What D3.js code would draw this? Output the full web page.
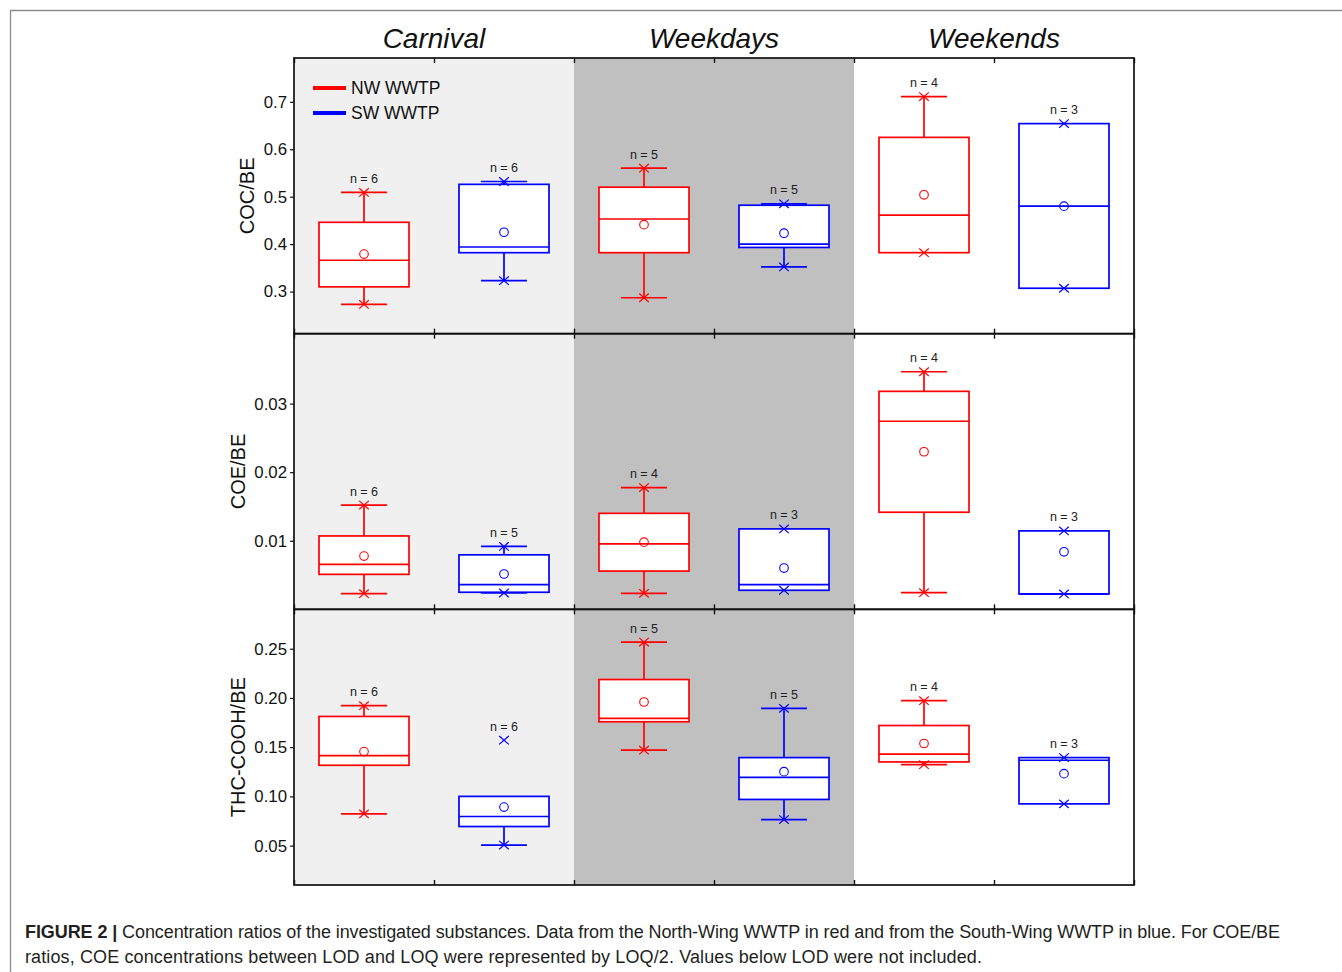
<!DOCTYPE html>
<html>
<head>
<meta charset="utf-8">
<script src="https://cdn.jsdelivr.net/npm/d3@7"></script>
<style>
  html, body { margin: 0; padding: 0; background: #fff; }
  svg { display: block; font-family: "Liberation Sans", Arial, sans-serif; }
</style>
</head>
<body>
<svg id="chart" width="1342" height="972"></svg>
<script>
// ---------------- data ----------------
const categories = ["Carnival", "Weekdays", "Weekends"];
const seriesNames = ["NW WWTP", "SW WWTP"];
const panelTitles = ["COC/BE", "COE/BE", "THC-COOH/BE"];
// box order: Carnival NW, Carnival SW, Weekdays NW, Weekdays SW, Weekends NW, Weekends SW

// COC/BE
const cocN    = [6, 6, 5, 5, 4, 3];
const cocMin  = [0.273, 0.323, 0.287, 0.352, 0.382, 0.307];
const cocQ1   = [0.310, 0.382, 0.382, 0.393, 0.382, 0.307];
const cocMed  = [0.366, 0.394, 0.453, 0.400, 0.461, 0.480];
const cocQ3   = [0.446, 0.526, 0.520, 0.482, 0.625, 0.654];
const cocMax  = [0.509, 0.532, 0.560, 0.485, 0.711, 0.654];
const cocMean = [0.379, 0.425, 0.441, 0.423, 0.504, 0.480];
const cocWLo  = [0.273, 0.323, 0.287, 0.352, null, null];
const cocWHi  = [0.509, 0.532, 0.560, 0.485, 0.711, null];
const cocTicks = [0.3, 0.4, 0.5, 0.6, 0.7];
const cocDomain = [0.2113, 0.7923];

// COE/BE
const coeN    = [6, 5, 4, 3, 4, 3];
const coeMin  = [0.00228, 0.00238, 0.00234, 0.00278, 0.00243, 0.00224];
const coeQ1   = [0.0051, 0.00249, 0.00558, 0.00278, 0.01416, 0.00224];
const coeMed  = [0.00655, 0.00359, 0.00955, 0.00359, 0.02743, 0.00224];
const coeQ3   = [0.0107, 0.00795, 0.0140, 0.01173, 0.03179, 0.01144];
const coeMax  = [0.0152, 0.00917, 0.01775, 0.01173, 0.03465, 0.01144];
const coeMean = [0.00776, 0.00515, 0.00980, 0.00602, 0.02298, 0.00839];
const coeWLo  = [0.00228, 0.00238, 0.00234, null, 0.00243, null];
const coeWHi  = [0.0152, 0.00917, 0.01775, null, 0.03465, null];
const coeTicks = [0.01, 0.02, 0.03];
const coeDomain = [0, 0.0402];

// THC-COOH/BE
const thcN    = [6, 6, 5, 5, 4, 3];
const thcMin  = [0.0822, 0.0506, 0.1469, 0.0765, 0.1322, 0.0924];
const thcQ1   = [0.1316, 0.0694, 0.1758, 0.0969, 0.1350, 0.0924];
const thcMed  = [0.1414, 0.0796, 0.1792, 0.1194, 0.1429, 0.1367];
const thcQ3   = [0.1812, 0.1000, 0.2187, 0.1394, 0.1720, 0.1394];
const thcMax  = [0.1921, 0.1571, 0.2567, 0.1894, 0.1972, 0.1394];
const thcMean = [0.1455, 0.0891, 0.1959, 0.1251, 0.1537, 0.1231];
const thcWLo  = [0.0822, 0.0506, 0.1469, 0.0765, 0.1322, null];
const thcWHi  = [0.1921, null, 0.2567, 0.1894, 0.1972, null];
const thcTicks = [0.05, 0.10, 0.15, 0.20, 0.25];
const thcDomain = [0.01, 0.29];

const captionBold = "FIGURE 2 |";
const captionLine1 = " Concentration ratios of the investigated substances. Data from the North-Wing WWTP in red and from the South-Wing WWTP in blue. For COE/BE";
const captionLine2 = "ratios, COE concentrations between LOD and LOQ were represented by LOQ/2. Values below LOD were not included.";

// --------------- build ---------------
const panels = [
  {title: panelTitles[0], n: cocN, min: cocMin, q1: cocQ1, med: cocMed, q3: cocQ3, max: cocMax, mean: cocMean, wLo: cocWLo, wHi: cocWHi, ticks: cocTicks, domain: cocDomain, fmt: ".1f", titleX: 254},
  {title: panelTitles[1], n: coeN, min: coeMin, q1: coeQ1, med: coeMed, q3: coeQ3, max: coeMax, mean: coeMean, wLo: coeWLo, wHi: coeWHi, ticks: coeTicks, domain: coeDomain, fmt: ".2f", titleX: 245},
  {title: panelTitles[2], n: thcN, min: thcMin, q1: thcQ1, med: thcMed, q3: thcQ3, max: thcMax, mean: thcMean, wLo: thcWLo, wHi: thcWHi, ticks: thcTicks, domain: thcDomain, fmt: ".2f", titleX: 245}
];

const svg = d3.select("#chart");
const plotL = 294, plotR = 1134, plotT = 58, plotB = 885;
const panelH = (plotB - plotT) / panels.length;
const colors = ["#ff0000", "#0000ff"];
const bandFills = ["#f0f0f0", "#c0c0c0", "#ffffff"];

// outer figure frame
svg.append("path")
  .attr("d", `M10.5,972 L10.5,10.5 L1342,10.5`)
  .attr("fill", "none").attr("stroke", "#8c8c8c").attr("stroke-width", 1.3);

const xCat = d3.scaleBand().domain(categories).range([plotL, plotR]);
const nSlots = categories.length * seriesNames.length;
const xSlot = d3.scaleLinear().domain([0, nSlots]).range([plotL, plotR]);
const slotW = xSlot(1) - xSlot(0);
const boxW = slotW * 0.643;
const capW = boxW * 0.51;

// backgrounds
svg.append("g").selectAll("rect").data(categories).join("rect")
  .attr("x", d => xCat(d)).attr("y", plotT)
  .attr("width", xCat.bandwidth()).attr("height", plotB - plotT)
  .attr("fill", (d, i) => bandFills[i]);

// column titles
svg.append("g").selectAll("text").data(categories).join("text")
  .attr("x", d => xCat(d) + xCat.bandwidth() / 2).attr("y", 47.5)
  .attr("text-anchor", "middle").attr("font-style", "italic")
  .attr("font-size", 28).attr("fill", "#111").text(d => d);

panels.forEach((p, pi) => {
  const pTop = plotT + pi * panelH, pBot = pTop + panelH;
  const y = d3.scaleLinear().domain(p.domain).range([pBot, pTop]);
  const g = svg.append("g");

  // y axis
  const ax = g.append("g").attr("transform", `translate(${plotL},0)`)
    .call(d3.axisLeft(y).tickValues(p.ticks).tickFormat(d3.format(p.fmt)).tickSize(4).tickSizeOuter(0).tickPadding(3));
  ax.select(".domain").remove();
  ax.selectAll("line").attr("stroke", "#111").attr("stroke-width", 1.2);
  ax.selectAll("text").attr("font-size", 16.8).attr("fill", "#111")
    .attr("font-family", "'Liberation Sans', Arial, sans-serif");

  // x ticks (inward, top and bottom)
  const tv = d3.range(0, nSlots + 1);
  const axT = g.append("g").attr("transform", `translate(0,${pTop})`)
    .call(d3.axisBottom(xSlot).tickValues(tv).tickFormat("").tickSize(5).tickSizeOuter(0));
  axT.select(".domain").remove();
  axT.selectAll("line").attr("stroke", "#111").attr("stroke-width", 1.4);
  const axB = g.append("g").attr("transform", `translate(0,${pBot})`)
    .call(d3.axisTop(xSlot).tickValues(tv).tickFormat("").tickSize(5).tickSizeOuter(0));
  axB.select(".domain").remove();
  axB.selectAll("line").attr("stroke", "#111").attr("stroke-width", 1.4);

  // y title
  g.append("text")
    .attr("transform", `translate(${p.titleX},${(pTop + pBot) / 2}) rotate(-90)`)
    .attr("text-anchor", "middle").attr("font-size", 20).attr("fill", "#111")
    .text(p.title);

  // boxes
  for (let i = 0; i < nSlots; i++) {
    const cx = xSlot(i + 0.5);
    const col = colors[i % 2];
    const bg = g.append("g").attr("stroke", col).attr("fill", "none").attr("stroke-width", 1.7);
    if (p.wHi[i] != null) {
      bg.append("line").attr("x1", cx).attr("x2", cx).attr("y1", y(p.q3[i])).attr("y2", y(p.wHi[i]));
    }
    if (p.wLo[i] != null) {
      bg.append("line").attr("x1", cx).attr("x2", cx).attr("y1", y(p.q1[i])).attr("y2", y(p.wLo[i]));
    }
    bg.append("rect").attr("x", cx - boxW / 2).attr("y", y(p.q3[i]))
      .attr("width", boxW).attr("height", Math.max(0.5, y(p.q1[i]) - y(p.q3[i])))
      .attr("fill", "#fff");
    bg.append("line").attr("x1", cx - boxW / 2).attr("x2", cx + boxW / 2)
      .attr("y1", y(p.med[i])).attr("y2", y(p.med[i]));
    if (p.wHi[i] != null) {
      bg.append("line").attr("x1", cx - capW / 2).attr("x2", cx + capW / 2).attr("y1", y(p.wHi[i])).attr("y2", y(p.wHi[i]));
    }
    if (p.wLo[i] != null) {
      bg.append("line").attr("x1", cx - capW / 2).attr("x2", cx + capW / 2).attr("y1", y(p.wLo[i])).attr("y2", y(p.wLo[i]));
    }
    // mean circle
    bg.append("circle").attr("cx", cx).attr("cy", y(p.mean[i])).attr("r", 4.3).attr("stroke-width", 1.1);
    // min / max X markers
    [p.min[i], p.max[i]].forEach(v => {
      const yy = y(v), s = 4.8, t = 4.2;
      bg.append("path").attr("d", `M${cx - s},${yy - t}L${cx + s},${yy + t}M${cx - s},${yy + t}L${cx + s},${yy - t}`)
        .attr("stroke-width", 1.2);
    });
    // n label
    g.append("text").attr("x", cx).attr("y", y(p.max[i]) - 9.5)
      .attr("text-anchor", "middle").attr("font-size", 12.5).attr("fill", "#222")
      .text(`n = ${p.n[i]}`);
  }

  // panel frame
  g.append("rect").attr("x", plotL).attr("y", pTop).attr("width", plotR - plotL).attr("height", panelH)
    .attr("fill", "none").attr("stroke", "#111").attr("stroke-width", 1.7);
});

// legend
const lg = svg.append("g");
seriesNames.forEach((s, i) => {
  const yy = 88 + i * 25;
  lg.append("line").attr("x1", 313).attr("x2", 346).attr("y1", yy).attr("y2", yy)
    .attr("stroke", colors[i]).attr("stroke-width", 4);
  lg.append("text").attr("x", 351).attr("y", yy + 6).attr("font-size", 17.5).attr("fill", "#111").text(s);
});

// caption
const cap1 = svg.append("text").attr("x", 25).attr("y", 938).attr("font-size", 18)
  .attr("fill", "#231f20").attr("textLength", 1255).attr("lengthAdjust", "spacing");
cap1.append("tspan").attr("font-weight", "bold").text(captionBold);
cap1.append("tspan").text(captionLine1);
svg.append("text").attr("x", 25).attr("y", 963).attr("font-size", 18).attr("fill", "#231f20")
  .attr("textLength", 957).attr("lengthAdjust", "spacing").text(captionLine2);
</script>
</body>
</html>
